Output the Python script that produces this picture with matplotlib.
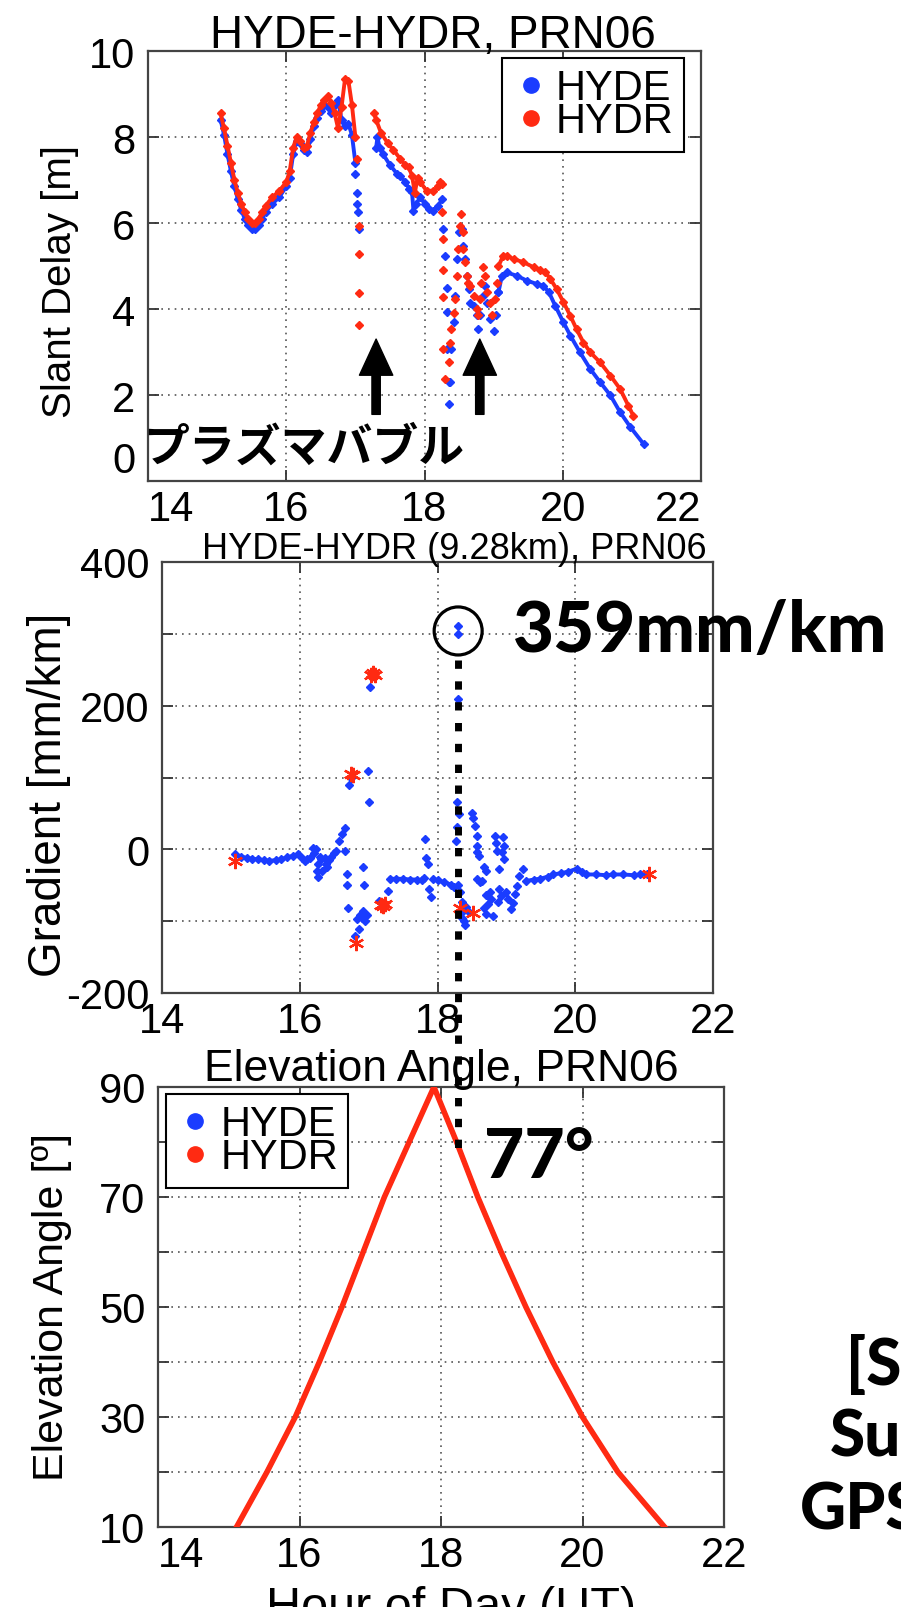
import matplotlib
matplotlib.use('Agg')
import matplotlib.pyplot as plt
from matplotlib.lines import Line2D
from matplotlib.patches import Ellipse

W, H = 901, 1608

# --- top panel: slant delay [m] ---
hyde_t1 = [15.05, 15.1, 15.15, 15.2, 15.25, 15.3, 15.35, 15.4, 15.45, 15.5, 15.55, 15.6, 15.65,
           15.7, 15.8, 15.9, 16.0, 16.05, 16.1, 16.15, 16.2, 16.25, 16.3, 16.35, 16.4, 16.45,
           16.5, 16.55, 16.6, 16.65, 16.7, 16.75, 16.8, 16.85, 16.9, 16.95, 17.0]
hyde_v1 = [8.4, 8.05, 7.6, 7.2, 6.85, 6.55, 6.3, 6.1, 5.95, 5.85, 5.85, 5.95, 6.1,
           6.25, 6.45, 6.6, 6.85, 7.05, 7.6, 7.9, 7.85, 7.7, 7.65, 7.95, 8.25, 8.45,
           8.6, 8.75, 8.7, 8.55, 8.75, 8.85, 8.4, 8.25, 8.3, 8.05, 7.4]
hyde_dots1 = [(17.0, 7.15), (17.02, 6.7), (17.03, 6.45), (17.04, 6.25), (17.05, 5.85)]
hyde_t2 = [17.3, 17.32, 17.35, 17.4, 17.5, 17.6, 17.65, 17.72, 17.78, 17.82, 17.84, 17.88,
           17.94, 18.0, 18.06, 18.13, 18.2, 18.25]
hyde_v2 = [7.75, 8.0, 7.75, 7.6, 7.35, 7.15, 7.1, 6.95, 6.8, 6.71, 6.29, 6.45,
           6.6, 6.45, 6.33, 6.29, 6.4, 6.55]
hyde_dots2 = [(18.27, 5.86), (18.3, 5.24), (18.32, 4.5), (18.32, 3.92), (18.33, 3.07),
              (18.35, 2.3), (18.35, 1.79), (18.37, 2.3), (18.39, 3.07), (18.42, 3.69),
              (18.44, 4.31), (18.47, 5.16), (18.5, 5.78), (18.54, 5.86), (18.56, 5.47),
              (18.59, 5.16), (18.62, 4.77), (18.65, 4.46), (18.66, 4.15), (18.71, 4.08),
              (18.76, 3.85), (18.78, 3.53), (18.8, 3.85), (18.85, 4.31), (18.87, 4.54),
              (18.9, 4.15), (18.95, 3.77), (19.0, 3.5), (19.03, 3.85), (19.07, 4.39)]
hyde_t3 = [19.07, 19.12, 19.19, 19.34, 19.48, 19.63, 19.72, 19.8, 19.89, 20.01, 20.11,
           20.25, 20.4, 20.54, 20.69, 20.83, 20.98, 21.17]
hyde_v3 = [4.39, 4.77, 4.85, 4.77, 4.66, 4.58, 4.54, 4.39, 4.08, 3.69, 3.38,
           2.99, 2.6, 2.3, 1.99, 1.6, 1.25, 0.86]

hydr_t1 = [15.05, 15.1, 15.15, 15.2, 15.25, 15.3, 15.35, 15.4, 15.45, 15.5, 15.55, 15.6, 15.65,
           15.7, 15.8, 15.9, 16.0, 16.05, 16.1, 16.15, 16.2, 16.25, 16.3, 16.35, 16.4, 16.45,
           16.5, 16.55, 16.6, 16.65, 16.7, 16.75, 16.8, 16.85, 16.9, 16.95, 17.0]
hydr_v1 = [8.55, 8.2, 7.8, 7.4, 7.0, 6.7, 6.45, 6.25, 6.1, 6.0, 6.0, 6.1, 6.25,
           6.4, 6.6, 6.75, 6.95, 7.2, 7.75, 8.0, 7.9, 7.75, 7.8, 8.1, 8.35, 8.55,
           8.75, 8.85, 8.95, 8.8, 8.55, 8.2, 8.7, 9.35, 9.3, 8.75, 8.0]
hydr_dots1 = [(17.02, 7.5), (17.05, 5.93), (17.05, 5.27), (17.05, 4.38), (17.05, 3.62)]
hydr_t2 = [17.27, 17.3, 17.37, 17.47, 17.55, 17.65, 17.72, 17.77, 17.82, 17.86, 17.9, 17.94,
           18.03, 18.13, 18.2, 18.23, 18.25]
hydr_v2 = [8.55, 8.4, 8.1, 7.85, 7.7, 7.49, 7.35, 7.3, 7.1, 6.7, 7.05, 6.95,
           6.75, 6.75, 6.85, 6.95, 6.9]
hydr_dots2 = [(18.25, 6.25), (18.27, 5.63), (18.27, 4.9), (18.27, 4.28), (18.27, 3.07),
              (18.3, 2.37), (18.35, 2.77), (18.37, 3.2), (18.39, 3.53), (18.42, 3.9),
              (18.44, 4.23), (18.47, 4.77), (18.49, 5.4), (18.52, 5.94), (18.53, 6.21),
              (18.55, 5.8), (18.56, 5.4), (18.58, 5.1), (18.61, 4.77), (18.63, 4.6),
              (18.66, 4.54), (18.71, 4.31), (18.76, 4.0), (18.78, 3.85), (18.8, 4.23),
              (18.82, 4.6), (18.85, 4.97), (18.87, 4.77), (18.9, 4.39), (18.95, 4.15),
              (18.97, 3.85), (19.02, 4.23), (19.05, 4.6)]
hydr_t3 = [19.07, 19.14, 19.19, 19.29, 19.43, 19.58, 19.67, 19.75, 19.82, 19.91, 20.01,
           20.11, 20.2, 20.3, 20.4, 20.54, 20.69, 20.83, 20.95, 21.02]
hydr_v3 = [5.0, 5.24, 5.24, 5.16, 5.09, 4.97, 4.9, 4.85, 4.7, 4.47, 4.16,
           3.84, 3.53, 3.22, 2.99, 2.76, 2.45, 2.14, 1.75, 1.52]

arrow_t = [17.3, 18.8]   # plasma bubble arrows

# --- middle panel: gradient [mm/km] ---
grad_t1 = [15.06, 15.15, 15.23, 15.3, 15.4, 15.48, 15.56, 15.65, 15.73, 15.82, 15.9,
           15.98, 16.03, 16.07, 16.11, 16.15]
grad_v1 = [-7, -10, -12, -13, -14, -15, -16, -15, -14, -11, -9, -7, -12, -16, -14, -12]
grad_t2 = [17.31, 17.4, 17.5, 17.6, 17.7, 17.77, 17.8]
grad_v2 = [-41, -41, -41, -42, -42, -43, -40]
grad_t3 = [17.94, 18.0, 18.1, 18.2, 18.24]
grad_v3 = [-41, -43, -46, -49, -52]
grad_t4 = [19.29, 19.4, 19.49, 19.6, 19.68, 19.8, 19.9, 20.02, 20.1, 20.16, 20.3, 20.45,
           20.55, 20.7, 20.85, 20.94, 21.04]
grad_v4 = [-44, -42, -41, -38, -35, -33, -31, -27, -31, -35, -35, -36, -35, -35, -36, -35, -35]
grad_pts = [(16.19, 2), (16.21, -5), (16.23, 0), (16.25, -30), (16.27, -21), (16.27, -39),
            (16.29, -10), (16.31, -14), (16.33, -30), (16.36, -12), (16.38, -20), (16.4, -25),
            (16.43, -15), (16.46, -10), (16.5, -5), (16.53, -2), (16.57, 12), (16.61, 21),
            (16.65, 30), (16.66, -2), (16.69, -35), (16.69, -49), (16.7, -81), (16.71, 90),
            (16.74, 100), (16.8, -120), (16.83, -97), (16.86, -111), (16.88, -92), (16.9, -95),
            (16.92, -86), (16.92, -25), (16.93, -49), (16.95, -100), (16.97, -92), (16.99, 109),
            (17.0, 66), (17.02, 226), (17.15, -72), (17.28, -58),
            (17.82, 14), (17.84, -12), (17.86, -21), (17.88, -55), (17.9, -67),
            (18.3, 311), (18.3, 300), (18.3, 209), (18.28, 66), (18.31, 49), (18.28, 31),
            (18.27, 12), (18.3, -49), (18.33, -60), (18.35, -74), (18.34, -88), (18.36, -95),
            (18.4, -106), (18.38, -100), (18.42, -80), (18.45, -86), (18.5, 51), (18.52, 44),
            (18.55, 33), (18.57, 19), (18.58, 5), (18.57, -4), (18.6, -9), (18.64, -44),
            (18.67, -25), (18.71, -30), (18.57, -41), (18.62, -46), (18.76, -60), (18.7, -63),
            (18.73, -76), (18.78, -69), (18.81, -93), (18.68, -81), (18.7, -90), (18.83, 18),
            (18.85, 9), (18.87, -2), (18.9, -28), (18.93, -4), (18.95, 17), (18.97, 5),
            (18.97, -14), (18.9, -55), (18.92, -65), (18.88, -74), (19.0, -60), (19.03, -69),
            (19.07, -83), (19.09, -75), (19.12, -62), (19.15, -51), (19.19, -37), (19.24, -28)]
grad_red = [(15.06, -16), (16.75, 105), (16.77, 103), (16.82, -131), (17.03, 243),
            (17.06, 245), (17.09, 242), (17.18, -77), (17.21, -79), (17.24, -76),
            (18.33, -81), (18.52, -88), (21.07, -35)]
peak_t, peak_grad = 18.3, 304
peak_label = '359mm/km'

# --- bottom panel: elevation angle ---
elev_t = [15.11, 15.54, 15.94, 16.28, 16.6, 16.9, 17.2, 17.55, 17.9,
          18.22, 18.52, 18.85, 19.2, 19.58, 20.0, 20.5, 21.16]
elev_deg = [10, 20, 30, 40, 50, 60, 70, 80, 90, 80, 70, 60, 50, 40, 30, 20, 10]

BLUE = '#1a3cff'
RED = '#ff2a12'
FONT = ['Liberation Sans', 'DejaVu Sans']
HEAVY = ['Lato', 'DejaVu Sans']
plt.rcParams['font.family'] = FONT


def box(l, t, r, b):
    return [l / W, 1 - b / H, (r - l) / W, (b - t) / H]


def fxy(x, y):
    return x / W, 1 - y / H


def style(ax, xlim, ylim, yticks, ylabels):
    ax.set_xlim(*xlim)
    ax.set_ylim(*ylim)
    ax.set_xticks([14, 16, 18, 20, 22])
    ax.set_xticklabels(['14', '16', '18', '20', '22'])
    ax.set_yticks(yticks)
    ax.set_yticklabels(ylabels)
    ax.tick_params(direction='in', length=8, width=1.3, top=True, right=True,
                   labelsize=30, pad=6, colors='#333333', labelcolor='black')
    ax.tick_params(axis='y', pad=9)
    ax.grid(True, linestyle=(0, (1, 3)), color='#555555', linewidth=1.2)
    for s in ax.spines.values():
        s.set_color('#444444')
        s.set_linewidth(1.6)


def draw_seg(ax, t, v, c):
    ax.plot(t, v, color=c, lw=2.8, marker='D', ms=4, mec=c, mfc=c, zorder=3)


def draw_dots(ax, pts, c, marker='D', ms=4, mew=1.0):
    ax.plot([p[0] for p in pts], [p[1] for p in pts], ls='none', marker=marker,
            ms=ms, color=c, mec=c, mew=mew, zorder=3)


def legend(ax, loc, anchor):
    handles = [Line2D([], [], ls='none', marker='o', ms=11, color=BLUE),
               Line2D([], [], ls='none', marker='o', ms=11, color=RED)]
    leg = ax.legend(handles, ['HYDE', 'HYDR'], loc=loc, bbox_to_anchor=fxy(*anchor),
                    bbox_transform=fig.transFigure, borderaxespad=0, fontsize=30,
                    handlelength=0.9, handletextpad=0.15, borderpad=0.25, labelspacing=-0.17,
                    fancybox=False, framealpha=1, edgecolor='black')
    leg.get_frame().set_linewidth(1.5)
    return leg


fig = plt.figure(figsize=(W / 100, H / 100), dpi=100)

# ---------------- top ----------------
ax1 = fig.add_axes(box(148, 52, 701, 482))
style(ax1, (14, 22), (0, 10), [0, 2, 4, 6, 8, 10], ['0', '2', '4', '6', '8', '10'])
ax1.get_yticklabels()[0].set_va('bottom')
ax1.get_xticklabels()[0].set_ha('left')
ax1.get_xticklabels()[-1].set_ha('right')
draw_seg(ax1, hyde_t1, hyde_v1, BLUE)
draw_dots(ax1, hyde_dots1, BLUE)
draw_seg(ax1, hyde_t2, hyde_v2, BLUE)
draw_dots(ax1, hyde_dots2, BLUE)
draw_seg(ax1, hyde_t3, hyde_v3, BLUE)
draw_seg(ax1, hydr_t1, hydr_v1, RED)
draw_dots(ax1, hydr_dots1, RED)
draw_seg(ax1, hydr_t2, hydr_v2, RED)
draw_dots(ax1, hydr_dots2, RED)
draw_seg(ax1, hydr_t3, hydr_v3, RED)
for t in arrow_t:
    ax1.annotate('', xy=(t, 3.3), xytext=(t, 1.55),
                 arrowprops=dict(width=6, headwidth=24, headlength=26, color='black', shrink=0))
ax1.set_title('HYDE-HYDR, PRN06', fontsize=33, pad=3, x=0.515)
fig.text(*fxy(60, 281), 'Slant Delay [m]', rotation=90, ha='center', va='center', fontsize=29)
fig.text(*fxy(143, 449), 'プラズマバブル', ha='left', va='center', fontsize=33,
         family=['Noto Sans CJK JP', 'DejaVu Sans'], weight='bold')
legend(ax1, 'upper right', (684, 59))

# ---------------- middle ----------------
ax2 = fig.add_axes(box(162, 563, 713, 994))
style(ax2, (14, 22), (-200, 400), list(range(-200, 401, 100)),
      ['-200', '', '0', '', '200', '', '400'])
for t, v in [(grad_t1, grad_v1), (grad_t2, grad_v2), (grad_t3, grad_v3), (grad_t4, grad_v4)]:
    draw_seg(ax2, t, v, BLUE)
draw_dots(ax2, grad_pts, BLUE)
draw_dots(ax2, grad_red, RED, marker=(6, 2, 0), ms=11, mew=1.6)
ax2.add_patch(Ellipse((peak_t, peak_grad), width=48 / 68.9, height=48 / 0.718,
                      fill=False, ec='black', lw=2.3, zorder=4))
ax2.set_title('HYDE-HYDR (9.28km), PRN06', fontsize=26, pad=3, x=0.53)
fig.text(*fxy(49, 795), 'Gradient [mm/km]', rotation=90, ha='center', va='center', fontsize=33)
fig.text(*fxy(513, 632), peak_label, ha='left', va='center', fontsize=51,
         family=HEAVY, weight='black')

# ---------------- bottom ----------------
ax3 = fig.add_axes(box(158, 1088, 724, 1528))
style(ax3, (14, 22), (10, 90), list(range(10, 91, 10)),
      ['10', '', '30', '', '50', '', '70', '', '90'])
ax3.get_xticklabels()[0].set_ha('left')
ax3.plot(elev_t, elev_deg, color=BLUE, lw=3, zorder=3)
ax3.plot(elev_t, elev_deg, color=RED, lw=4, zorder=4)
ax3.set_title('Elevation Angle, PRN06', fontsize=32, pad=5)
fig.text(*fxy(52, 1307), 'Elevation Angle [º]', rotation=90, ha='center', va='center',
         fontsize=31)
fig.text(*fxy(451, 1586), 'Hour of Day (UT)', ha='center', va='top', fontsize=35)
legend(ax3, 'upper left', (166, 1095))
fig.text(*fxy(484, 1158), '77°', ha='left', va='center', fontsize=50,
         family=HEAVY, weight='black')

# dotted guide from the 359 mm/km circle down to the 77 deg elevation
fig.add_artist(Line2D([458 / W, 458 / W], [1 - 661 / H, 1 - 1156 / H],
                      transform=fig.transFigure, color='black', lw=5,
                      linestyle=(0, (1.2, 1.8)), dash_capstyle='butt', zorder=5))

# caption clipped by the right edge of the slide
for x, y, s in [(846, 1366, '[S'), (830, 1438, 'Su'), (800, 1511, 'GPS')]:
    fig.text(*fxy(x, y), s, ha='left', va='center', fontsize=46, family=HEAVY, weight='black')

fig.savefig('out.png', dpi=100)
